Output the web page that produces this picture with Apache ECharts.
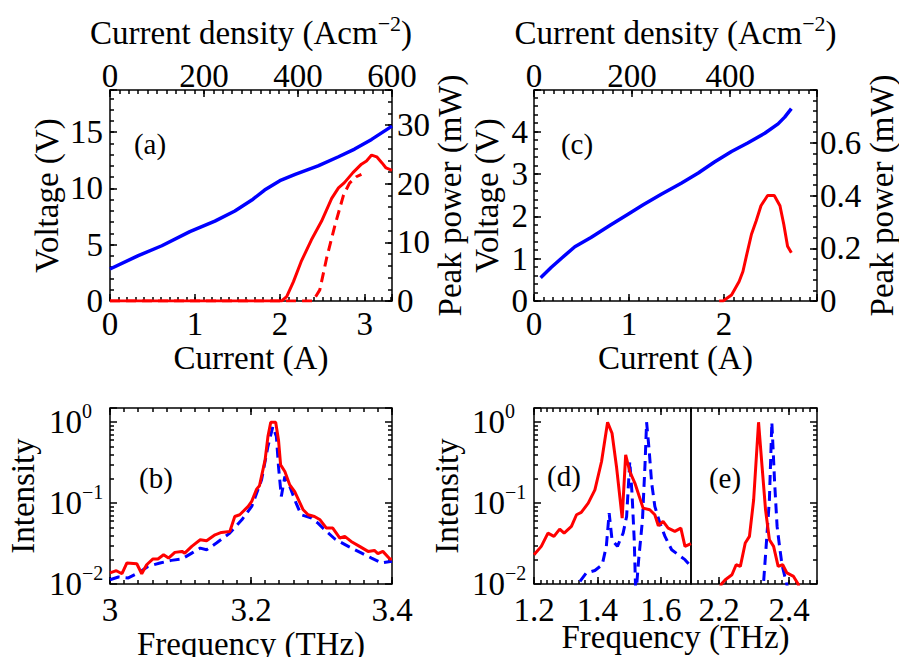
<!DOCTYPE html>
<html><head><meta charset="utf-8">
<script src="https://cdn.jsdelivr.net/npm/echarts@6/dist/echarts.min.js"></script>
<style>html,body{margin:0;padding:0;background:#fff}#c{width:899px;height:657px}
.off{position:absolute;left:-3000px;top:0;width:899px;height:657px}</style>
</head><body><div id="c"></div>
<script>
// ---------------- data ----------------
// panel (a)
const aVCurrent = [0, 0.333, 0.61, 0.94, 1.235, 1.47, 1.67, 1.82, 2.0, 2.18, 2.45, 2.69, 2.88, 3.08, 3.32];
const aVoltage  = [2.84, 4.03, 4.91, 6.16, 7.1, 8.0, 8.97, 9.86, 10.69, 11.25, 12.0, 12.82, 13.5, 14.36, 15.54];
const aP1Current = [0, 0.5, 1.0, 1.5, 2.02, 2.08, 2.16, 2.25, 2.37, 2.49, 2.61, 2.69, 2.76, 2.86, 2.96, 3.02, 3.08, 3.14, 3.2, 3.25, 3.32];
const aP1Power   = [0, 0, 0, 0, 0, 0.74, 3.3, 6.7, 10.4, 13.6, 17.5, 19.3, 20.2, 21.9, 23.35, 23.9, 24.9, 24.6, 23.6, 22.7, 22.3];
const aP2Current = [0, 0.6, 1.2, 1.8, 2.39, 2.47, 2.55, 2.65, 2.75, 2.82, 2.9, 2.96];
const aP2Power   = [0, 0, 0, 0, 0, 1.9, 7.3, 13.0, 18.1, 20.1, 21.2, 21.6];
// panel (c)
const cVCurrent = [0.07, 0.18, 0.29, 0.43, 0.60, 0.81, 0.99, 1.15, 1.34, 1.55, 1.73, 1.90, 2.08, 2.25, 2.43, 2.57, 2.64, 2.71];
const cVoltage  = [0.55, 0.79, 1.01, 1.28, 1.50, 1.80, 2.05, 2.27, 2.52, 2.78, 3.02, 3.28, 3.53, 3.73, 3.96, 4.18, 4.34, 4.54];
const cPCurrent = [1.95, 1.99, 2.08, 2.16, 2.2, 2.24, 2.29, 2.34, 2.39, 2.46, 2.53, 2.59, 2.63, 2.67, 2.71];
const cPower    = [0, 0, 0.023, 0.074, 0.112, 0.176, 0.253, 0.304, 0.361, 0.40, 0.40, 0.361, 0.291, 0.208, 0.183];
// panel (b)
const bFreqRed = [3.000,3.009,3.017,3.024,3.038,3.045,3.052,3.061,3.068,3.076,3.083,3.092,3.102,3.106,3.116,3.128,3.137,3.149,3.158,3.170,3.177,3.184,3.196,3.201,3.208,3.212,3.220,3.224,3.228,3.235,3.239,3.242,3.248,3.255,3.262,3.274,3.281,3.290,3.298,3.307,3.316,3.326,3.333,3.342,3.354,3.366,3.375,3.380,3.387,3.397,3.400];
const bIntRed  = [0.0137,0.0146,0.0134,0.0182,0.0178,0.0134,0.0173,0.0204,0.0204,0.0230,0.0209,0.0246,0.0253,0.0241,0.0292,0.0352,0.0343,0.0406,0.0434,0.0447,0.0684,0.0718,0.0910,0.105,0.149,0.164,0.343,0.665,1.0,1.0,0.605,0.297,0.246,0.168,0.139,0.0827,0.0718,0.0684,0.0622,0.0491,0.0491,0.0370,0.0388,0.0336,0.0292,0.0253,0.0260,0.0237,0.0253,0.0204,0.0204];
const bFreqBlue = [3.000,3.012,3.026,3.040,3.054,3.071,3.087,3.102,3.116,3.128,3.137,3.151,3.170,3.187,3.201,3.215,3.224,3.231,3.236,3.239,3.243,3.248,3.255,3.264,3.271,3.286,3.295,3.307,3.319,3.338,3.357,3.371,3.385,3.400];
const bIntBlue  = [0.0113,0.0122,0.0119,0.0137,0.0165,0.0182,0.0196,0.0204,0.0241,0.0278,0.0265,0.0321,0.0426,0.0622,0.0910,0.194,0.501,0.885,0.665,0.284,0.121,0.213,0.161,0.100,0.0718,0.0653,0.0566,0.0447,0.0360,0.0292,0.0241,0.0209,0.0182,0.0191];
// panel (d)
const dFreqRed = [1.200,1.223,1.244,1.263,1.281,1.295,1.318,1.334,1.349,1.371,1.392,1.413,1.432,1.446,1.460,1.478,1.489,1.502,1.518,1.544,1.565,1.581,1.592,1.607,1.623,1.644,1.663,1.676,1.695];
const dIntRed  = [0.0230,0.0292,0.0426,0.0388,0.0478,0.0426,0.0515,0.0718,0.0767,0.100,0.146,0.327,1.0,0.732,0.284,0.0653,0.395,0.246,0.177,0.0867,0.0827,0.0718,0.0525,0.0594,0.0491,0.0447,0.0491,0.0292,0.0315];
const dFreqBlue = [1.330,1.339,1.365,1.392,1.415,1.428,1.437,1.446,1.463,1.481,1.492,1.502,1.509,1.516,1.521,1.530,1.542,1.550,1.555,1.563,1.571,1.581,1.597,1.613,1.634,1.655,1.676,1.695];
const dIntBlue  = [0.007,0.0100,0.0137,0.0147,0.0173,0.0292,0.0753,0.0352,0.0292,0.0426,0.0684,0.327,0.133,0.0352,0.007,0.020,0.062,0.30,1.0,0.455,0.177,0.091,0.0566,0.0388,0.0265,0.0230,0.0200,0.0165];
// panel (e)
const eFreqRed = [2.200,2.207,2.218,2.237,2.249,2.261,2.275,2.287,2.299,2.313,2.323,2.333,2.344,2.356,2.369,2.382,2.394,2.413,2.426,2.432];
const eIntRed  = [0.008,0.0100,0.0113,0.0130,0.0173,0.0165,0.0321,0.0388,0.110,1.0,0.284,0.0827,0.0352,0.0292,0.0165,0.0173,0.0137,0.0124,0.0100,0.008];
const eFreqBlue = [2.320,2.327,2.334,2.344,2.351,2.359,2.366,2.373,2.380,2.388,2.396];
const eIntBlue  = [0.007,0.0100,0.0265,0.110,1.0,0.177,0.0515,0.0292,0.0173,0.0124,0.0090];
// tick values
const logMinorTicks = [0.02,0.03,0.04,0.05,0.06,0.07,0.08,0.09,0.2,0.3,0.4,0.5,0.6,0.7,0.8,0.9];
const dFreqTicks = [1.2, 1.4, 1.6];
const eFreqTicks = [2.2, 2.4];

// ---------------- helpers ----------------
const F = 'Liberation Serif';
const FS = 33;
const K = '#000';
const RED = '#ff0000', BLUE = '#0000ff';
const zip = (xs, ys) => xs.map((x, i) => [x, ys[i]]);
const SUP = { '0': '\u2070', '1': '\u00b9', '2': '\u00b2', '-': '\u207b' };

function numFmt(step, hideFrom) {
  return function (v) {
    const r = v / step;
    if (Math.abs(r - Math.round(r)) > 1e-6) return '';
    if (hideFrom != null && v >= hideFrom - 1e-9) return '';
    return String(parseFloat(v.toFixed(4)));
  };
}
function makeLogFmt(rich) {
  return function (v) {
    const l = Math.log10(v);
    const e = Math.round(l);
    if (Math.abs(l - e) > 1e-6) return '';
    if (rich) return '{b|10}{s|' + (e < 0 ? '\u2212' + (-e) : String(e)) + '}';
    return '10' + String(e).split('').map(ch => SUP[ch] || ch).join('');
  };
}
const logRich = {
  b: { fontFamily: F, fontSize: FS, lineHeight: 43, color: K, verticalAlign: 'middle' },
  s: { fontFamily: F, fontSize: 20, lineHeight: 20, color: K, verticalAlign: 'top' }
};
const topRich = {
  m: { fontFamily: F, fontSize: FS, lineHeight: 40, color: K, verticalAlign: 'middle' },
  s: { fontFamily: F, fontSize: 22, lineHeight: 22, color: K, verticalAlign: 'top' }
};

function buildOption(M) {
  const xAxes = [], yAxes = [];
  function addAxis(list, o) {
    const base = { gridIndex: o.grid, position: o.pos, min: o.min, max: o.max, splitLine: { show: false } };
    if (o.log) { base.type = 'log'; base.logBase = 10; } else { base.type = 'value'; }
    const idx = list.length;
    const major = Object.assign({}, base, {
      axisLine: { show: false, onZero: false },
      axisTick: { show: o.ticks !== false, inside: true, length: 7, lineStyle: { color: K, width: 1.5 } },
      axisLabel: { show: !!o.labels, margin: o.margin || 0, color: K, fontFamily: F, fontSize: FS, lineHeight: 26 },
      nameLocation: 'middle',
      nameTextStyle: { color: K, fontFamily: F, fontSize: FS, lineHeight: FS }
    });
    if (!o.log && o.major) major.interval = o.major;
    if (o.log) {
      major.axisLabel.formatter = makeLogFmt(M.rich);
      if (M.rich) major.axisLabel.rich = logRich;
      major.axisLabel.align = 'left';
    } else if (o.major) major.axisLabel.formatter = numFmt(o.major, o.hideFrom);
    if (o.custom) { major.axisLabel.customValues = o.custom; major.axisTick.customValues = o.custom; }
    if (o.name) {
      major.name = (o.rich && !M.rich) ? 'Current density (Acm\u207b\u00b2)' : o.name;
      major.nameGap = (o.rich && !M.rich) ? 41 : o.nameGap;
    }
    if (M.rot && o.nameRotate != null) major.nameRotate = o.nameRotate;
    if (o.rich && M.rich) major.nameTextStyle.rich = o.rich;
    list.push(major);
    if (o.minor || (o.log && o.ticks !== false)) {
      const minor = Object.assign({}, base, {
        axisLine: { show: false, onZero: false },
        axisTick: { show: true, inside: true, length: 4, lineStyle: { color: K, width: 1.5 } },
        axisLabel: { show: false }
      });
      if (o.log) minor.axisTick.customValues = logMinorTicks;
      else minor.interval = o.minor;
      list.push(minor);
    }
    return idx;
  }
  const topName = '{m|Current density (Acm}{s|\u22122}{m|)}';
  const ax_aB = addAxis(xAxes, { grid: 0, pos: 'bottom', min: 0, max: 3.32, major: 1, minor: 0.1, labels: true, margin: 10, name: 'Current (A)', nameGap: 35 });
  addAxis(xAxes, { grid: 0, pos: 'top', min: 0, max: 600, major: 200, minor: 20, labels: true, margin: 1.5, name: topName, nameGap: 37.5, rich: topRich });
  const ay_aL = addAxis(yAxes, { grid: 0, pos: 'left', min: 0, max: 18.75, major: 5, minor: 1, labels: true, margin: 7, name: 'Voltage (V)', nameGap: 46.5 });
  const ay_aR = addAxis(yAxes, { grid: 0, pos: 'right', min: 0, max: 36, major: 10, minor: 2, labels: true, margin: 5, name: 'Peak power (mW)', nameGap: 37.5, nameRotate: 90 });
  const ax_cB = addAxis(xAxes, { grid: 1, pos: 'bottom', min: 0, max: 2.98, major: 1, minor: 0.1, labels: true, margin: 10, name: 'Current (A)', nameGap: 35 });
  addAxis(xAxes, { grid: 1, pos: 'top', min: 0, max: 577, major: 200, minor: 20, labels: true, margin: 1.5, name: topName, nameGap: 37.5, rich: topRich });
  const ay_cL = addAxis(yAxes, { grid: 1, pos: 'left', min: 0, max: 4.98, major: 1, minor: 0.2, labels: true, margin: 6, name: 'Voltage (V)', nameGap: 30.5 });
  const ay_cR = addAxis(yAxes, { grid: 1, pos: 'right', min: 0, max: 0.8, major: 0.2, minor: 0.04, labels: true, margin: 3, hideFrom: 0.8, name: 'Peak power (mW)', nameGap: 44.5, nameRotate: 90 });
  const ax_bB = addAxis(xAxes, { grid: 2, pos: 'bottom', min: 3.0, max: 3.4, major: 0.2, minor: 0.02, labels: true, margin: 13, name: 'Frequency (THz)', nameGap: 36 });
  addAxis(xAxes, { grid: 2, pos: 'top', min: 3.0, max: 3.4, major: 0.2, minor: 0.02 });
  const ay_b = addAxis(yAxes, { grid: 2, pos: 'left', log: true, min: 0.01, max: 1.5, labels: true, margin: 61, name: 'Intensity', nameGap: 70.5 });
  addAxis(yAxes, { grid: 2, pos: 'right', log: true, min: 0.01, max: 1.5 });
  const ax_d = addAxis(xAxes, { grid: 3, pos: 'bottom', min: 1.2, max: 1.695, major: 0.2, minor: 0.02, custom: dFreqTicks, labels: true, margin: 13 });
  addAxis(xAxes, { grid: 3, pos: 'top', min: 1.2, max: 1.695, major: 0.2, minor: 0.02, custom: dFreqTicks });
  const ay_d = addAxis(yAxes, { grid: 3, pos: 'left', log: true, min: 0.01, max: 1.5, labels: true, margin: 62, name: 'Intensity', nameGap: 70.5 });
  const ax_e = addAxis(xAxes, { grid: 4, pos: 'bottom', min: 2.12, max: 2.48, major: 0.2, minor: 0.02, custom: eFreqTicks, labels: true, margin: 13 });
  addAxis(xAxes, { grid: 4, pos: 'top', min: 2.12, max: 2.48, major: 0.2, minor: 0.02, custom: eFreqTicks });
  const ay_e = addAxis(yAxes, { grid: 4, pos: 'right', log: true, min: 0.01, max: 1.5 });
  addAxis(xAxes, { grid: 5, pos: 'bottom', min: 0, max: 1, ticks: false, name: 'Frequency (THz)', nameGap: 36 });
  addAxis(yAxes, { grid: 5, pos: 'left', min: 0, max: 1, ticks: false });

  function line(xi, yi, data, color, dashed, w) {
    const s = { type: 'line', xAxisIndex: xi, yAxisIndex: yi, data: data, showSymbol: false,
      lineStyle: { color: color, width: w || 3, type: dashed ? [10, 6] : 'solid' } };
    if (M.silent) s.silent = true;
    return s;
  }
  const series = [
    line(ax_aB, ay_aL, zip(aVCurrent, aVoltage), BLUE, false, 3.5),
    line(ax_aB, ay_aR, zip(aP2Current, aP2Power), RED, true),
    line(ax_aB, ay_aR, zip(aP1Current, aP1Power), RED, false),
    line(ax_cB, ay_cL, zip(cVCurrent, cVoltage), BLUE, false, 3.5),
    line(ax_cB, ay_cR, zip(cPCurrent, cPower), RED, false),
    line(ax_bB, ay_b, zip(bFreqBlue, bIntBlue), BLUE, true),
    line(ax_bB, ay_b, zip(bFreqRed, bIntRed), RED, false),
    line(ax_d, ay_d, zip(dFreqBlue, dIntBlue), BLUE, true),
    line(ax_d, ay_d, zip(dFreqRed, dIntRed), RED, false),
    line(ax_e, ay_e, zip(eFreqBlue, eIntBlue), BLUE, true),
    line(ax_e, ay_e, zip(eFreqRed, eIntRed), RED, false)
  ];
  const panelLabels = [['(a)', 150, 144], ['(c)', 577, 144], ['(b)', 156, 478], ['(d)', 564, 476], ['(e)', 725, 478]];
  const fr = { show: true, borderColor: K, borderWidth: 1.5, outerBoundsMode: 'none' };
  const opt = {
    animation: false,
    grid: [
      Object.assign({ left: 110, top: 90, width: 282, height: 211 }, fr),
      Object.assign({ left: 534, top: 90, width: 283, height: 211 }, fr),
      Object.assign({ left: 110, top: 408, width: 282, height: 176 }, fr),
      Object.assign({ left: 534, top: 408, width: 157, height: 176 }, fr),
      Object.assign({ left: 691, top: 408, width: 126, height: 176 }, fr),
      { left: 534, top: 408, width: 283, height: 176, show: false, outerBoundsMode: 'none' }
    ],
    xAxis: xAxes, yAxis: yAxes, series: series
  };
  if (M.gfx) {
    opt.graphic = panelLabels.map(p => ({ type: 'text', x: p[1], y: p[2],
      style: { text: p[0], fontFamily: F, fontSize: 29, fill: K, align: 'center', verticalAlign: 'middle' } }));
  } else {
    opt.title = panelLabels.map(p => ({ text: p[0], left: p[1] - 18, top: p[2] - 17, padding: 0,
      textStyle: { fontFamily: F, fontSize: 29, fontWeight: 'normal', color: K } }));
  }
  return opt;
}

// count tick marks that are really drawn on the panel frames
function visibleTicks(dom) {
  let n = 0;
  const xs = [110, 392, 534, 691, 817], ys = [90, 301, 408, 584];
  dom.querySelectorAll('svg path').forEach(p => {
    const m = (p.getAttribute('d') || '').match(/^M([-\d.]+) ([-\d.]+)L([-\d.]+) ([-\d.]+)$/);
    if (!m) return;
    const x1 = +m[1], y1 = +m[2], len = Math.abs(m[3] - m[1]) + Math.abs(m[4] - m[2]);
    if (len <= 0 || len > 8) return;
    if (!(xs.some(v => Math.abs(x1 - v) <= 1.5) || ys.some(v => Math.abs(y1 - v) <= 1.5))) return;
    let el = p, ok = true;
    while (el && el.tagName && el.tagName.toLowerCase() !== 'svg') {
      if (el.getAttribute('clip-path') || el.getAttribute('opacity') === '0' || el.getAttribute('display') === 'none') { ok = false; break; }
      el = el.parentElement;
    }
    const st = p.getAttribute('stroke');
    if (ok && st && st !== 'none' && p.getAttribute('stroke-opacity') !== '0') n++;
  });
  return n;
}

const modes = [
  { rich: true, rot: true, gfx: true, silent: true },
  { rich: true, rot: false, gfx: true, silent: false },
  { rich: false, rot: false, gfx: true, silent: false },
  { rich: false, rot: false, gfx: false, silent: false }
];
let chosen = modes[0];
for (let i = 0; i < modes.length; i++) {
  const dom = document.createElement('div');
  dom.className = 'off';
  document.body.appendChild(dom);
  let n = 0;
  try {
    const c = echarts.init(dom, null, { renderer: 'svg' });
    c.setOption(buildOption(modes[i]));
    n = visibleTicks(dom);
    c.dispose();
  } catch (e) { n = 0; }
  document.body.removeChild(dom);
  if (n >= 150) { chosen = modes[i]; break; }
}
const chart = echarts.init(document.getElementById('c'), null, { renderer: 'svg' });
chart.setOption(buildOption(chosen));
</script>
</body></html>
